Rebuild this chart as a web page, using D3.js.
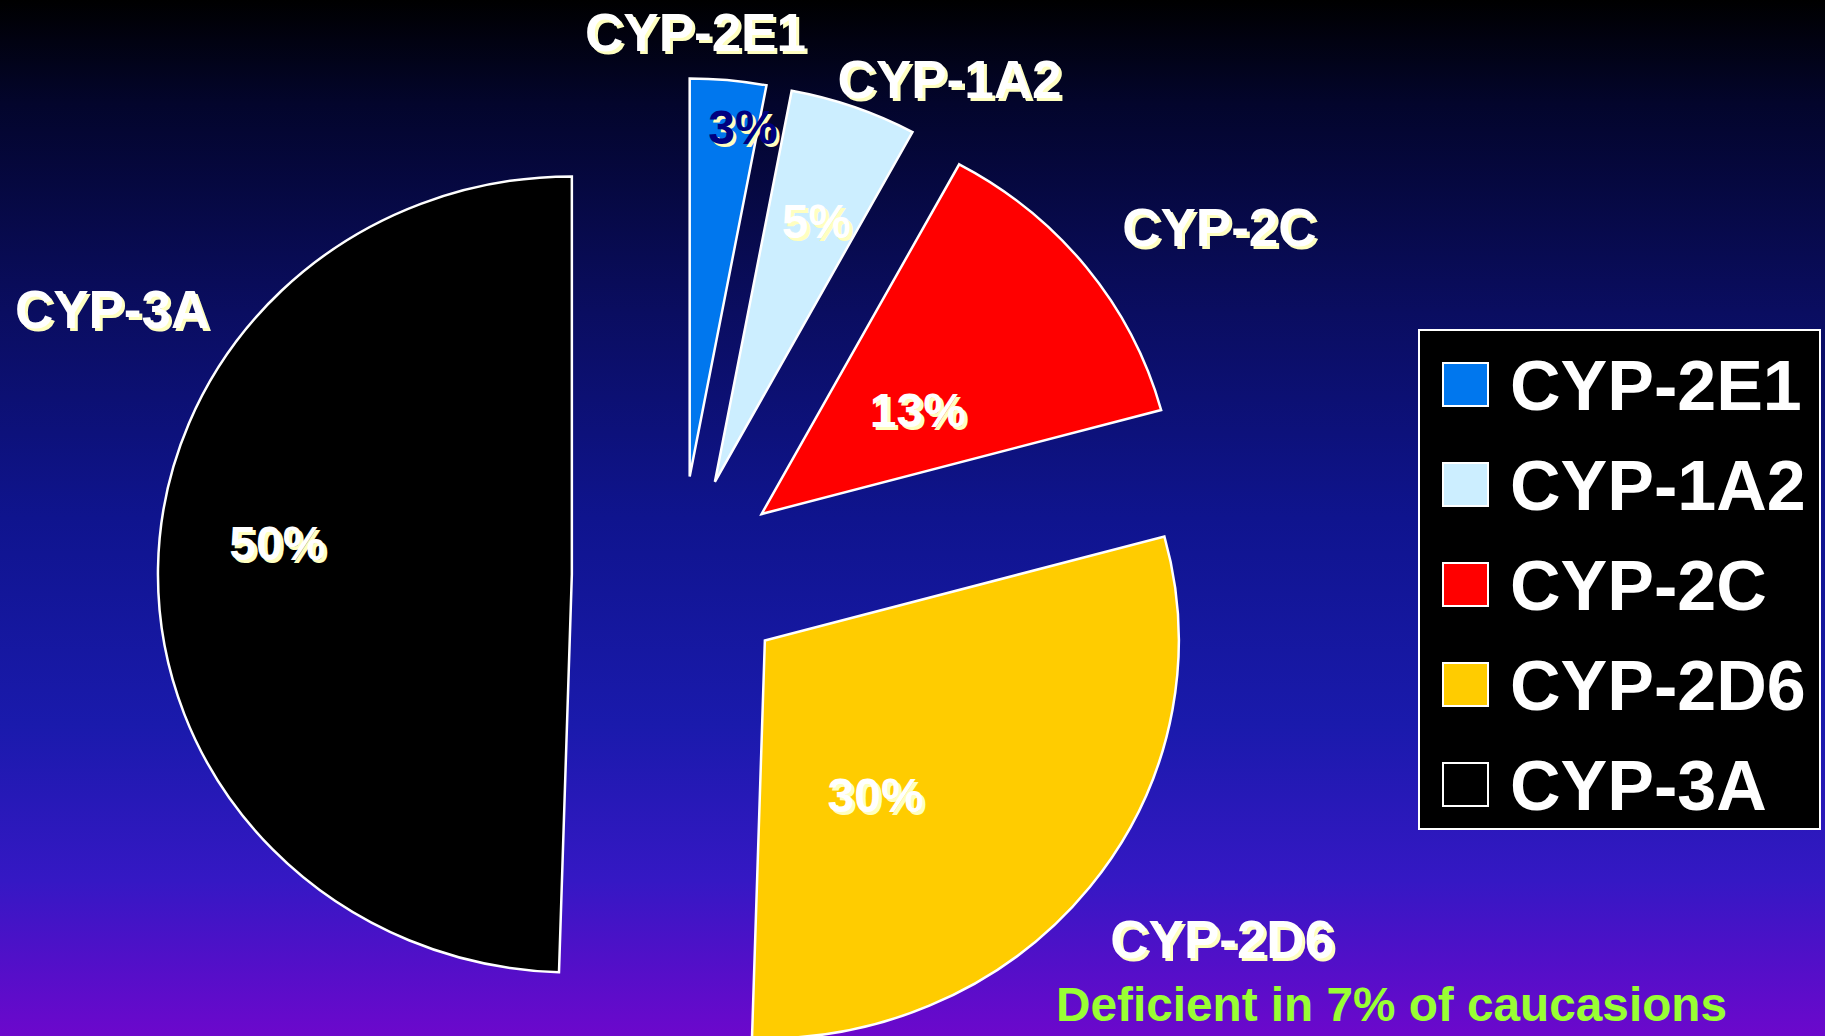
<!DOCTYPE html>
<html>
<head>
<meta charset="utf-8">
<script src="https://cdn.jsdelivr.net/npm/d3@7"></script>
<style>
  html, body { margin: 0; padding: 0; background: #000; overflow: hidden; }
  svg { display: block; }
</style>
</head>
<body>
<svg id="chart"></svg>
<script>
// data
const categories = ["CYP-2E1", "CYP-1A2", "CYP-2C", "CYP-2D6", "CYP-3A"];
const shares = [3, 5, 13, 30, 50];
const pctLabels = ["3%", "5%", "13%", "30%", "50%"];
const sliceColors = ["#0077ee", "#cceeff", "#ff0000", "#ffcc00", "#000000"];
const noteText = "Deficient in 7% of caucasions";

// layout
const W = 1825, H = 1036;
const cx = 680, cy = 576, R = 398, SX = 1.04;
const explode = [100, 100, 100, 104, 104];
// [fraction of slice span, fraction of radius]
const pctPlace = [[0.78, 0.887], [0.55, 0.70], [0.574, 0.46], [0.659, 0.47], [0.531, 0.716]];
const namePlace = [[0.067, 1.117], [1.04, 1.161], [0.613, 1.32], [0.461, 1.335], [0.669, 1.296]];
const pctColors = ["#000080", "#ffffff", "#ffffff", "#ffffff", "#ffffff"];

const svg = d3.select("#chart").attr("width", W).attr("height", H);

const defs = svg.append("defs");
const grad = defs.append("linearGradient").attr("id", "bg")
  .attr("x1", 0).attr("y1", 0).attr("x2", 0).attr("y2", 1);
[[0, "#000000"], [0.1, "#03052c"], [0.3, "#0a0d60"], [0.5, "#0f148e"],
 [0.7, "#1a1aac"], [0.85, "#3518c4"], [1, "#6c08cc"]].forEach(s => {
  grad.append("stop").attr("offset", s[0]).attr("stop-color", s[1]);
});
svg.append("rect").attr("width", W).attr("height", H).attr("fill", "url(#bg)");

const pie = d3.pie().sort(null).startAngle(0).endAngle(2 * Math.PI);
const arcs = pie(shares);
const arc = d3.arc().innerRadius(0).outerRadius(R);

function apex(d, i) {
  const m = (d.startAngle + d.endAngle) / 2;
  return [explode[i] * Math.sin(m), -explode[i] * Math.cos(m)];
}
// point in page coords, from slice span fraction t and radius fraction k
function place(d, i, t, k) {
  const a = d.startAngle + t * (d.endAngle - d.startAngle);
  const o = apex(d, i);
  const x = o[0] + k * R * Math.sin(a);
  const y = o[1] - k * R * Math.cos(a);
  return [cx + SX * x, cy + y];
}

const pieG = svg.append("g")
  .attr("transform", "translate(" + cx + "," + cy + ") scale(" + SX + ",1)");

pieG.selectAll("path.slice")
  .data(arcs)
  .enter().append("path")
  .attr("class", "slice")
  .attr("transform", (d, i) => "translate(" + apex(d, i) + ")")
  .attr("d", arc)
  .attr("fill", (d, i) => sliceColors[i])
  .attr("stroke", "#ffffff")
  .attr("stroke-width", 2.5)
  .attr("stroke-linejoin", "miter")
  .attr("vector-effect", "non-scaling-stroke");

// text with the pale yellow drop shadow
function shadowText(x, y, txt, size, fill, opts) {
  opts = opts || {};
  const g = svg.append("g");
  [["#ffffc0", 3], [fill, 0]].forEach(p => {
    const t = g.append("text")
      .attr("x", x + p[1]).attr("y", y + p[1])
      .attr("text-anchor", opts.anchor || "middle")
      .attr("font-family", "'Liberation Sans', Arial, sans-serif")
      .attr("font-weight", "bold")
      .attr("font-size", size)
      .attr("fill", p[0])
      .text(txt);
    if (opts.dy) t.attr("dy", opts.dy);
  });
}

arcs.forEach((d, i) => {
  const p = place(d, i, pctPlace[i][0], pctPlace[i][1]);
  shadowText(p[0], p[1], pctLabels[i], 48, pctColors[i], { dy: "0.36em" });
  const q = place(d, i, namePlace[i][0], namePlace[i][1]);
  shadowText(q[0], q[1], categories[i], 53, "#ffffff", { dy: "0.36em" });
});

// note under CYP-2D6
svg.append("text")
  .attr("x", 1056).attr("y", 1021)
  .attr("font-family", "'Liberation Sans', Arial, sans-serif")
  .attr("font-weight", "bold")
  .attr("font-size", 48)
  .attr("fill", "#99ff33")
  .attr("textLength", 671)
  .attr("lengthAdjust", "spacingAndGlyphs")
  .text(noteText);

// legend
const lg = svg.append("g").attr("transform", "translate(1419,330)");
lg.append("rect")
  .attr("width", 401).attr("height", 499)
  .attr("fill", "#000").attr("stroke", "#ffffff").attr("stroke-width", 2);
const rows = lg.selectAll("g.row").data(categories).enter().append("g")
  .attr("class", "row")
  .attr("transform", (d, i) => "translate(0," + (i * 100) + ")");
rows.append("rect")
  .attr("x", 24).attr("y", 33).attr("width", 45).attr("height", 43)
  .attr("fill", (d, i) => sliceColors[i])
  .attr("stroke", "#ffffff").attr("stroke-width", 2);
rows.append("text")
  .attr("x", 91).attr("y", 80)
  .attr("font-family", "'Liberation Sans', Arial, sans-serif")
  .attr("font-weight", "bold")
  .attr("font-size", 70)
  .attr("fill", "#ffffff")
  .text(d => d);
</script>
</body>
</html>
